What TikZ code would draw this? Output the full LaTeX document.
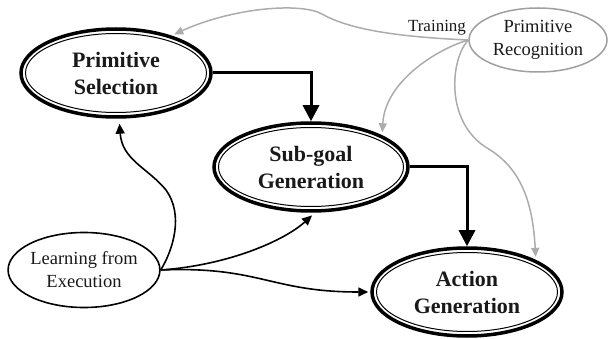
\documentclass[tikz,border=0pt]{standalone}
\usepackage{fontspec}
\setmainfont{Liberation Serif}
\usetikzlibrary{shapes.geometric,arrows.meta}
\begin{document}
\begin{tikzpicture}[x=1pt,y=-1pt,
  bignode/.style={ellipse, draw=black, line width=3.5pt, align=center, text=black!90,
    font=\bfseries\fontsize{22}{27}\selectfont, inner sep=0pt},
  smallnode/.style={ellipse, align=center, font=\fontsize{18.5}{23}\selectfont,
    inner sep=0pt, text=black!90},
  innerline/.style={line width=1pt},
  thickarrow/.style={line width=3pt, -{Triangle[width=16pt,length=16pt]}},
  thinarrow/.style={line width=1.6pt, -{Triangle[width=9pt,length=10pt]}},
  grayarrow/.style={line width=1.5pt, draw=gray!65, -{Triangle[width=8pt,length=9pt]}, shorten >=3pt},
]
\useasboundingbox (0,0) rectangle (608,339);

% nodes
\node[bignode, minimum width=190pt, minimum height=88pt] (PS) at (116,73) {Primitive\\Selection};
\node[bignode, minimum width=194pt, minimum height=88pt] (SG) at (311,167) {Sub-goal\\Generation};
\node[bignode, minimum width=190pt, minimum height=88pt] (AG) at (467,292) {Action\\Generation};
\node[smallnode, draw=black, line width=1.6pt, minimum width=150pt, minimum height=75pt] (LE) at (84,270) {Learning from\\Execution};
\node[smallnode, draw=gray!75, line width=1.5pt, minimum width=138pt, minimum height=64pt] (PR) at (538,40) {Primitive\\Recognition};
\node[font=\fontsize{17}{20}\selectfont, text=black!90, inner sep=0pt] (TR) at (437,28) {Training};

% inner lines of double ellipses
\draw[innerline] (PS.center) ellipse [x radius=90.5, y radius=39.5];
\draw[innerline] (SG.center) ellipse [x radius=92.5, y radius=39.5];
\draw[innerline] (AG.center) ellipse [x radius=90.5, y radius=39.5];

% thick black connectors
\draw[thickarrow] (PS.east) -| (SG.north);
\draw[thickarrow] (SG.east) -| (AG.north);

% thin black connectors from Learning from Execution
\coordinate (k1) at (166,190);
\draw[thinarrow, shorten >=5pt] (LE.east) .. controls (173,250) and (184,215) .. (k1)
   .. controls (148,168) and (122,160) .. (PS.-86);
\draw[thinarrow, shorten >=4pt] (LE.east) .. controls (230,265) and (285,240) .. (SG.-85);
\draw[thinarrow, shorten >=2pt] (LE.east) .. controls (260,266) and (270,292) .. (AG.west);

% gray connectors from Primitive Recognition
\coordinate (g1) at (322,14);
\draw[grayarrow] (PR.west) .. controls (400,37) and (350,30) .. (g1)
   .. controls (300,2) and (232,8) .. (PS.34);
\draw[grayarrow] (PR.west) .. controls (440,48) and (385,80) .. (SG.24);
\coordinate (g3) at (487,148);
\draw[grayarrow] (PR.west) .. controls (450,60) and (445,122) .. (g3)
   .. controls (525,170) and (533,210) .. (AG.25);
\end{tikzpicture}
\end{document}
